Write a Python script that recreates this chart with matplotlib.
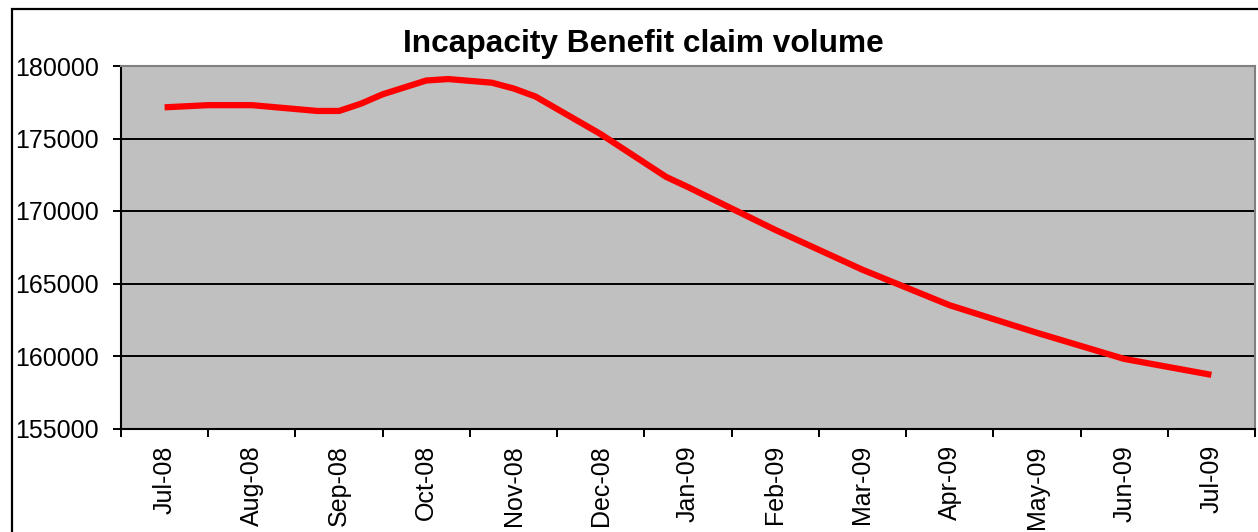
import matplotlib
matplotlib.use("Agg")
import matplotlib.pyplot as plt
from matplotlib.patches import Rectangle

plt.rcParams['font.family'] = ['Liberation Sans', 'DejaVu Sans']

title = "Incapacity Benefit claim volume"
month_labels = ["Jul-08", "Aug-08", "Sep-08", "Oct-08", "Nov-08", "Dec-08",
                "Jan-09", "Feb-09", "Mar-09", "Apr-09", "May-09", "Jun-09", "Jul-09"]
# position of each observation on the month axis (0 = Jul-08)
obs_pos = [0, 0.5, 1, 1.75, 2, 2.25, 2.5, 3, 3.25, 3.75, 4, 4.25,
           5, 5.75, 6, 7, 8, 9, 10, 11, 12]
claim_volume = [177150, 177300, 177300, 176900, 176900, 177400, 178050,
                179000, 179100, 178850, 178450, 177900, 175300, 172350,
                171650, 168700, 165950, 163500, 161600, 159800, 158700]
y_ticks = [155000, 160000, 165000, 170000, 175000, 180000]

W, H = 1258, 532
fig = plt.figure(figsize=(W / 100, H / 100), dpi=100)
fig.patch.set_facecolor('white')

left, right, top, bottom = 121, 1255, 66, 428.5
ax = fig.add_axes([left / W, 1 - bottom / H, (right - left) / W, (bottom - top) / H])
ax.set_facecolor('#C0C0C0')

for yv in y_ticks[1:-1]:
    ax.axhline(yv, color='#000000', lw=1.4, zorder=1)

ax.plot(obs_pos, claim_volume, color='#FF0000', lw=4.5, solid_joinstyle='round',
        solid_capstyle='butt', zorder=3, clip_on=False)

ax.set_xlim(-0.5, len(month_labels) - 0.5)
ax.set_ylim(y_ticks[0], y_ticks[-1])

ax.set_yticks(y_ticks)
ax.set_yticklabels([str(v) for v in y_ticks], fontsize=18)
ax.tick_params(axis='y', direction='out', length=6, width=1.4, pad=10, colors='black')

ax.set_xticks(range(len(month_labels)))
ax.set_xticklabels(month_labels, rotation=90, fontsize=18)
ax.tick_params(axis='x', which='major', length=0, pad=12)
ax.set_xticks([i - 0.5 for i in range(len(month_labels) + 1)], minor=True)
ax.tick_params(axis='x', which='minor', direction='out', length=5.5, width=1.4, color='black')

for s in ['left', 'bottom']:
    ax.spines[s].set_color('black')
    ax.spines[s].set_linewidth(1.5)
for s in ['top', 'right']:
    ax.spines[s].set_color('#808080')
    ax.spines[s].set_linewidth(1.5)

fig.text(643 / W, 1 - 52 / H, title, ha='center', va='baseline',
         fontsize=22.8, fontweight='bold', color='black')

# outer chart border (extends beyond the cropped image)
fig.patches.append(Rectangle((12 / W, -0.5), 2.0, 1.5 - 9 / H, transform=fig.transFigure,
                             fill=False, edgecolor='black', lw=1.6, clip_on=False))

fig.savefig('out.png', dpi=100)
